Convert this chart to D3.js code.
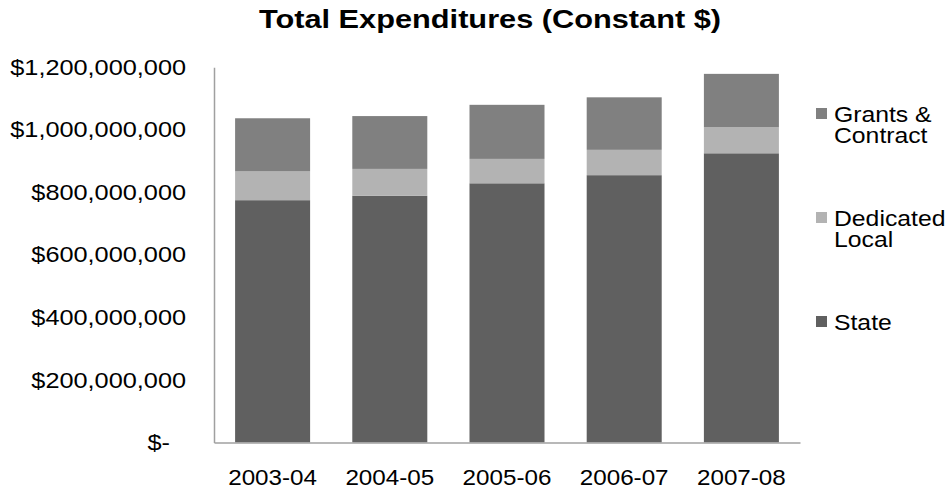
<!DOCTYPE html>
<html>
<head>
<meta charset="utf-8">
<script src="https://cdn.jsdelivr.net/npm/d3@7"></script>
<style>
  body { margin: 0; background: #fff; }
  text { font-family: "Liberation Sans", Arial, sans-serif; fill: #000; }
</style>
</head>
<body>
<svg id="chart" width="951" height="491"></svg>
<script>
// values, in dollars
const years = ['2003-04', '2004-05', '2005-06', '2006-07', '2007-08'];
const state = [775e6, 789e6, 829e6, 855e6, 925e6];
const dedicatedLocal = [92e6, 86e6, 78e6, 81e6, 83e6];
const grants = [170e6, 169e6, 173e6, 168e6, 171e6];
const yTicks = [0, 2e8, 4e8, 6e8, 8e8, 1e9, 1.2e9];

const keys = ['state', 'local', 'grants'];
const colors = {state: '#606060', local: '#b3b3b3', grants: '#808080'};
const legendItems = [
  {key: 'grants', lines: ['Grants &', 'Contract'], y: 114},
  {key: 'local', lines: ['Dedicated', 'Local'], y: 218},
  {key: 'state', lines: ['State'], y: 322}
];

const sx = 1.1; // the original text is a little wide

const rows = years.map((yr, i) => ({
  year: yr, state: state[i], local: dedicatedLocal[i], grants: grants[i]
}));

const svg = d3.select('#chart');

const x = d3.scaleBand()
  .domain(years)
  .range([214, 800])
  .paddingInner(0.36)
  .paddingOuter(0.18);

const y = d3.scaleLinear()
  .domain([0, 1.2e9])
  .range([442.5, 67.3]);

const stacked = d3.stack().keys(keys)(rows);

svg.append('g')
  .selectAll('g')
  .data(stacked)
  .enter().append('g')
    .attr('fill', d => colors[d.key])
  .selectAll('rect')
  .data(d => d)
  .enter().append('rect')
    .attr('x', d => x(d.data.year))
    .attr('width', x.bandwidth())
    .attr('y', d => y(d[1]))
    .attr('height', d => y(d[0]) - y(d[1]));

// y axis
const fmt = d3.format(',');
const yAxis = svg.append('g')
  .attr('transform', 'translate(214,0)')
  .call(d3.axisLeft(y)
    .tickValues(yTicks)
    .tickSize(0)
    .tickSizeOuter(0)
    .tickFormat(d => d === 0 ? '$-' : '$' + fmt(d)));
yAxis.select('.domain').attr('stroke', '#a0a0a0').attr('stroke-width', 1.5);
yAxis.selectAll('text')
  .attr('x', null)
  .attr('font-size', 22)
  .attr('font-family', '"Liberation Sans", Arial, sans-serif')
  .attr('fill', '#000')
  .attr('transform', d => 'translate(' + (d === 0 ? -44 : -28) + ',0) scale(1.15,1)');

// x axis
const xAxis = svg.append('g')
  .attr('transform', 'translate(0,442.5)')
  .call(d3.axisBottom(x).tickSize(0).tickSizeOuter(0));
xAxis.select('.domain').attr('stroke', '#a0a0a0').attr('stroke-width', 1.5);
xAxis.selectAll('text')
  .attr('y', null)
  .attr('dy', null)
  .attr('font-size', 22)
  .attr('font-family', '"Liberation Sans", Arial, sans-serif')
  .attr('fill', '#000')
  .attr('transform', 'translate(0,42) scale(' + sx + ',1)');

// title
svg.append('text')
  .attr('transform', 'translate(490,28) scale(1.16,1)')
  .attr('text-anchor', 'middle')
  .attr('font-size', 26.5)
  .attr('font-weight', 'bold')
  .text('Total Expenditures (Constant $)');

// legend
const legend = svg.append('g');
legendItems.forEach(item => {
  legend.append('rect')
    .attr('x', 816)
    .attr('y', item.y - 6)
    .attr('width', 11)
    .attr('height', 11)
    .attr('fill', colors[item.key]);
  item.lines.forEach((ln, j) => {
    legend.append('text')
      .attr('transform', 'translate(834,' + (item.y + 8 + j * 21) + ') scale(' + sx + ',1)')
      .attr('font-size', 22.5)
      .text(ln);
  });
});
</script>
</body>
</html>
